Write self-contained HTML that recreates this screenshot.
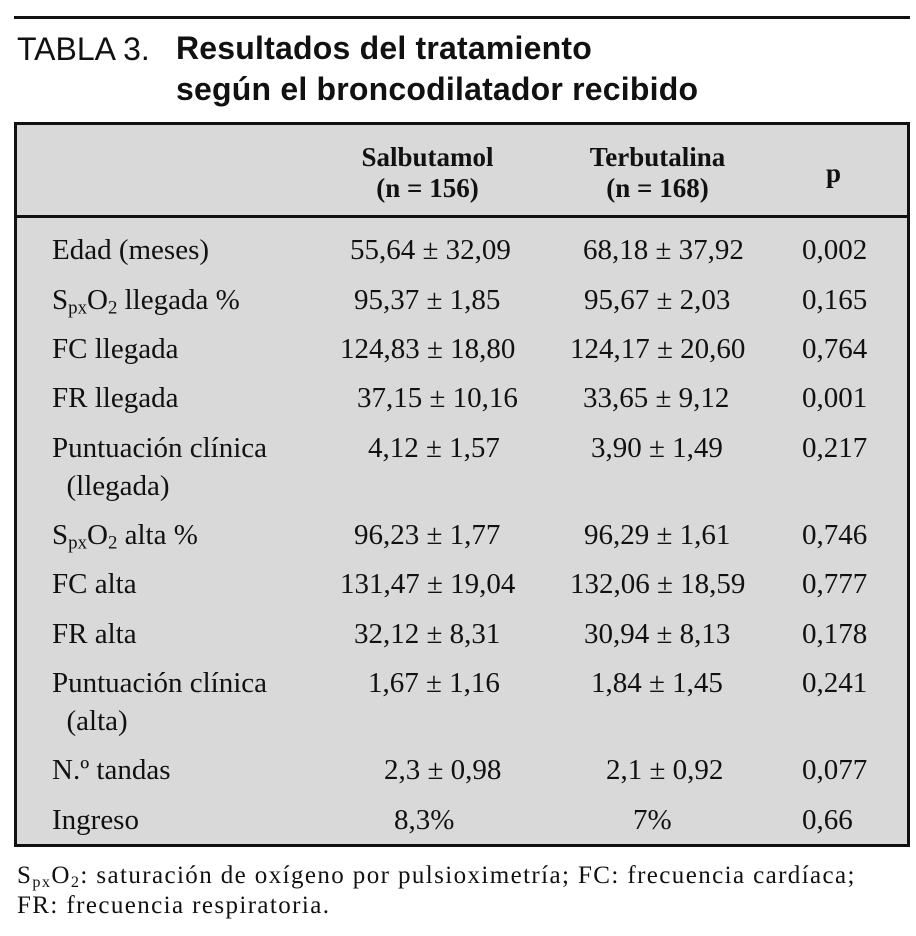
<!DOCTYPE html>
<html><head><meta charset="utf-8"><style>
body{margin:0;width:916px;height:936px;background:#fff;position:relative;overflow:hidden;font-family:"Liberation Serif",serif;color:#111}
.a{position:absolute;white-space:nowrap;line-height:30px;font-size:29px}
.t{font-size:29px}
.h{font-weight:bold;font-size:27px}
.f{position:absolute;font-size:25px;letter-spacing:1.4px;white-space:nowrap;line-height:26px}
sub{font-size:0.65em;vertical-align:-0.25em;line-height:0}
</style></head><body>
<div style="position:absolute;left:14px;top:16px;width:896px;height:3px;background:#111"></div>
<div style="position:absolute;left:17px;top:29px;font-family:'Liberation Sans',sans-serif;font-size:32px;font-weight:300;line-height:40px">TABLA 3.</div>
<div style="position:absolute;left:176px;top:28px;font-family:'Liberation Sans',sans-serif;font-size:32px;font-weight:bold;line-height:41px;letter-spacing:0.2px">Resultados del tratamiento<br>según el broncodilatador recibido</div>
<div style="position:absolute;left:14px;top:122px;width:890px;height:719px;border:3px solid #111;background:#d9d9d9"></div>
<div style="position:absolute;left:14px;top:215px;width:896px;height:3px;background:#111"></div>
<div class="a h" style="left:340px;top:142px;width:175px;text-align:center;line-height:31px">Salbutamol<br>(n = 156)</div>
<div class="a h" style="left:570px;top:142px;width:175px;text-align:center;line-height:31px">Terbutalina<br>(n = 168)</div>
<div class="a h" style="left:826px;top:158px">p</div>

<div class="a t" style="left:52px;top:235px">Edad (meses)</div>
<div class="a t" style="left:52px;top:285px">S<sub>px</sub>O<sub>2</sub> llegada %</div>
<div class="a t" style="left:52px;top:334px">FC llegada</div>
<div class="a t" style="left:52px;top:383px">FR llegada</div>
<div class="a t" style="left:52px;top:429px;line-height:38px">Puntuación clínica<br>&nbsp;&nbsp;(llegada)</div>
<div class="a t" style="left:52px;top:520px">S<sub>px</sub>O<sub>2</sub> alta %</div>
<div class="a t" style="left:52px;top:569px">FC alta</div>
<div class="a t" style="left:52px;top:619px">FR alta</div>
<div class="a t" style="left:52px;top:664px;line-height:38px">Puntuación clínica<br>&nbsp;&nbsp;(alta)</div>
<div class="a t" style="left:52px;top:755px">N.º tandas</div>
<div class="a t" style="left:52px;top:805px">Ingreso</div>

<div class="a t" style="left:350px;top:235px">55,64 ± 32,09</div>
<div class="a t" style="left:354px;top:285px">95,37 ± 1,85</div>
<div class="a t" style="left:340px;top:334px">124,83 ± 18,80</div>
<div class="a t" style="left:357px;top:383px">37,15 ± 10,16</div>
<div class="a t" style="left:368px;top:433px">4,12 ± 1,57</div>
<div class="a t" style="left:354px;top:520px">96,23 ± 1,77</div>
<div class="a t" style="left:340px;top:569px">131,47 ± 19,04</div>
<div class="a t" style="left:354px;top:619px">32,12 ± 8,31</div>
<div class="a t" style="left:368px;top:668px">1,67 ± 1,16</div>
<div class="a t" style="left:384px;top:755px">2,3 ± 0,98</div>
<div class="a t" style="left:394px;top:805px">8,3%</div>

<div class="a t" style="left:583px;top:235px">68,18 ± 37,92</div>
<div class="a t" style="left:584px;top:285px">95,67 ± 2,03</div>
<div class="a t" style="left:570px;top:334px">124,17 ± 20,60</div>
<div class="a t" style="left:583px;top:383px">33,65 ± 9,12</div>
<div class="a t" style="left:591px;top:433px">3,90 ± 1,49</div>
<div class="a t" style="left:584px;top:520px">96,29 ± 1,61</div>
<div class="a t" style="left:570px;top:569px">132,06 ± 18,59</div>
<div class="a t" style="left:584px;top:619px">30,94 ± 8,13</div>
<div class="a t" style="left:591px;top:668px">1,84 ± 1,45</div>
<div class="a t" style="left:606px;top:755px">2,1 ± 0,92</div>
<div class="a t" style="left:633px;top:805px">7%</div>

<div class="a t" style="left:802px;top:235px">0,002</div>
<div class="a t" style="left:802px;top:285px">0,165</div>
<div class="a t" style="left:802px;top:334px">0,764</div>
<div class="a t" style="left:802px;top:383px">0,001</div>
<div class="a t" style="left:802px;top:433px">0,217</div>
<div class="a t" style="left:802px;top:520px">0,746</div>
<div class="a t" style="left:802px;top:569px">0,777</div>
<div class="a t" style="left:802px;top:619px">0,178</div>
<div class="a t" style="left:802px;top:668px">0,241</div>
<div class="a t" style="left:802px;top:755px">0,077</div>
<div class="a t" style="left:802px;top:805px">0,66</div>

<div class="f" style="left:17px;top:861px;line-height:30px">S<sub>px</sub>O<sub>2</sub>: saturación de oxígeno por pulsioximetría; FC: frecuencia cardíaca;<br>FR: frecuencia respiratoria.</div>
</body></html>
